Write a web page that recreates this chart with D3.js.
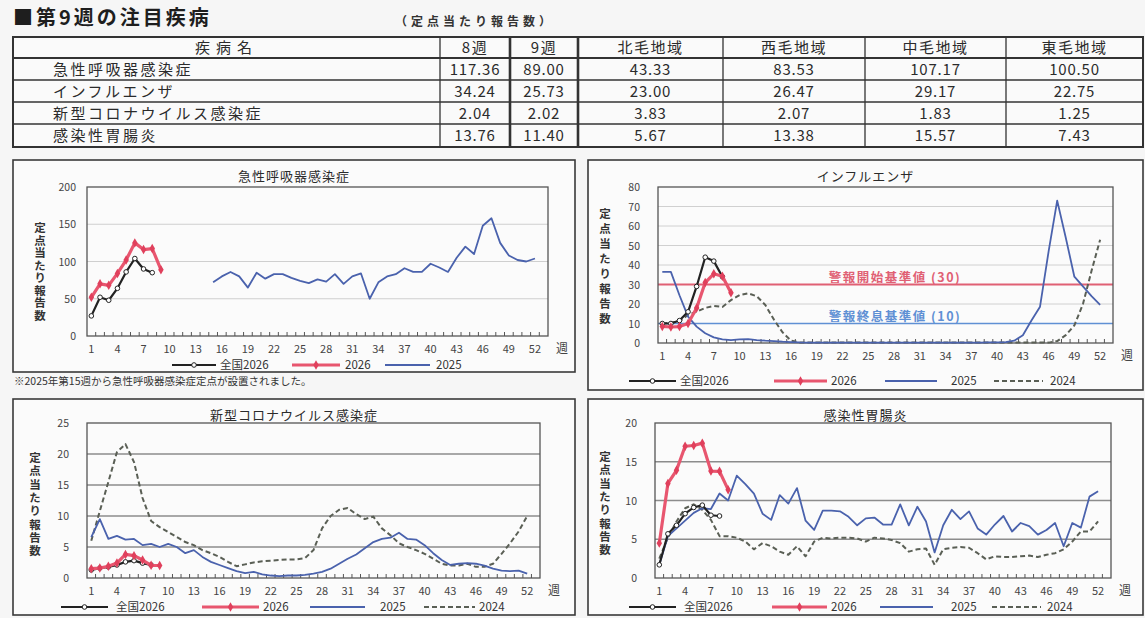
<!DOCTYPE html>
<html>
<head>
<meta charset="utf-8">
<script src="https://cdn.jsdelivr.net/npm/d3@7"></script>
<style>
body { margin: 0; background: #f6f6f6; }
svg { display: block; font-family: "Noto Sans CJK JP", "Noto Sans", sans-serif; }
.vtitle { writing-mode: vertical-rl; }
</style>
</head>
<body>
<svg id="page" width="1145" height="618"></svg>
<script>
// ---- table data ----
const tableHead = ["疾病名", "8週", "9週", "北毛地域", "西毛地域", "中毛地域", "東毛地域"];
const diseases = ["急性呼吸器感染症", "インフルエンザ", "新型コロナウイルス感染症", "感染性胃腸炎"];
const week8 = ["117.36", "34.24", "2.04", "13.76"];
const week9 = ["89.00", "25.73", "2.02", "11.40"];
const north = ["43.33", "23.00", "3.83", "5.67"];
const west = ["83.53", "26.47", "2.07", "13.38"];
const central = ["107.17", "29.17", "1.83", "15.57"];
const east = ["100.50", "22.75", "1.25", "7.43"];

// ---- chart data (weekly values, week 1 first) ----
const xTickLabels = [1, 4, 7, 10, 13, 16, 19, 22, 25, 28, 31, 34, 37, 40, 43, 46, 49, 52];

// 急性呼吸器感染症
const ariNation2026 = [27, 52, 48, 64, 86, 104, 90, 85];
const ariPref2026 = [52, 70, 68, 84, 102, 125, 116, 117.36, 89.00];
const ari2025 = [null, null, null, null, null, null, null, null, null, null, null, null, null, null,
  72, 80, 86, 80, 65, 85, 77, 83, 83, 78, 74, 71, 76, 73, 83, 70, 80, 84, 50, 72,
  80, 83, 91, 86, 86, 97, 92, 86, 105, 120, 110, 148, 158, 125, 108, 102, 100, 104];

// インフルエンザ
const fluNation2026 = [10, 10, 11.5, 16, 29, 44, 42, 34];
const fluPref2026 = [8.5, 8.2, 8.4, 10, 18, 31, 35.5, 34.24, 25.73];
const flu2025 = [36.5, 36.5, 24.5, 13.5, 8.4, 5, 2.9, 1.9, 1.5, 1.9, 2, 1.5, 1.2, 1, 0.7, 0.5, 0.3,
  0.2, 0.2, 0.2, 0.2, 0.2, 0.2, 0.2, 0.2, 0.2, 0.2, 0.2, 0.2, 0.2, 0.2, 0.2, 0.2, 0.2, 0.2, 0.2, 0.2, 0.2,
  0.3, 0.3, 0.5, 1.2, 4, 11.5, 18.6, 47, 73, 54, 34, 29, 24, 19.5];
const flu2024 = [10, 10.5, 11, 14.5, 16, 18, 19, 18.5, 22, 24.5, 25.5, 24, 19.5, 12, 5.5, 1.2, 0.3,
  0.2, 0.2, 0.2, 0.2, 0.2, 0.2, 0.2, 0.2, 0.2, 0.2, 0.2, 0.2, 0.2, 0.2, 0.2, 0.2, 0.2, 0.2, 0.2, 0.2,
  0.2, 0.2, 0.2, 0.2, 0.2, 0.2, 0.2, 0.2, 0.2, 1, 4, 9, 20, 37, 53];
const fluAlertStart = 30;
const fluAlertEnd = 10;

// 新型コロナウイルス感染症
const covNation2026 = [1.3, 1.6, 1.8, 2.1, 2.6, 2.8, 2.4, 2.1];
const covPref2026 = [1.5, 1.6, 1.9, 2.4, 3.8, 3.6, 2.9, 2.04, 2.02];
const cov2025 = [6.6, 9.5, 6.3, 6.8, 6.2, 6.3, 5.3, 5.5, 5, 5.5, 5, 4, 4.5, 3.4, 2.6, 2.1, 1.6, 1.1,
  0.8, 1, 0.6, 0.4, 0.3, 0.4, 0.4, 0.5, 0.7, 1, 1.5, 2.3, 3.1, 3.8, 4.8, 5.8, 6.3, 6.5, 7.3, 6.3,
  6.2, 5.3, 4, 2.9, 2.1, 2.3, 2.4, 2.3, 2, 1.5, 1.2, 1.1, 1.2, 0.7];
const cov2024 = [6, 10.8, 15.5, 20.3, 21.6, 18.7, 12.9, 9.2, 8.2, 7.4, 6.6, 5.8, 5.3, 4.5, 4, 3.4, 2.6,
  1.9, 2.2, 2.5, 2.7, 2.8, 2.9, 3, 3, 3.2, 4.5, 8, 10, 11, 11.3, 10.3, 9.5, 9.9, 8, 6.9, 5.6, 5,
  4.5, 3.9, 3.1, 2.3, 2, 2, 2.3, 1.8, 1.8, 2.3, 3.9, 5.6, 7.5, 10];

// 感染性胃腸炎
const gasNation2026 = [1.7, 5.7, 6.8, 8.3, 9.1, 9.4, 8.1, 8.0];
const gasPref2026 = [4.5, 12.2, 13.9, 17, 17.1, 17.4, 13.8, 13.76, 11.40];
const gas2025 = [1.7, 5.4, 6.4, 7.4, 8.4, 9, 8.9, 10.9, 10, 13.2, 12.1, 10.9, 8.3, 7.5, 10.7, 9.6,
  11.6, 7.4, 6.2, 8.7, 8.7, 8.6, 7.9, 6.8, 7.7, 7.8, 6.9, 6.9, 9.5, 6.8, 9.2, 7.3, 3.3, 6.8, 8.8,
  7.6, 8.6, 6.4, 5.6, 6.9, 8, 6, 7.1, 6.7, 5.6, 6.2, 7.1, 4.1, 7.1, 6.5, 10.5, 11.2];
const gas2024 = [2.5, 5.2, 7.3, 9, 9.5, 8.8, 7.5, 5.4, 5.4, 5.2, 4.7, 3.7, 4.5, 4.1, 3.4, 3, 4.1,
  2.8, 4.7, 5.2, 5.1, 5.2, 5.2, 5.1, 4.7, 5.2, 5.1, 4.9, 4.5, 3.4, 3.7, 3.8, 1.7, 3.7, 3.9, 4,
  3.9, 3.2, 2.4, 2.8, 2.7, 2.7, 2.8, 2.9, 2.7, 3, 3.2, 3.7, 4.7, 6, 6, 7.3];

const yTitle = "定点当たり報告数";
const legendNames = { nation: "全国2026", pref: "2026", y2025: "2025", y2024: "2024" };

const svg = d3.select("#page");
const ink = "#2b2b2b";

// ---------- heading + table ----------
svg.append("text").attr("x", 13).attr("y", 25)
  .attr("font-size", 20).attr("font-weight", "bold").attr("letter-spacing", 3)
  .attr("fill", "#1e1e1e").text("■第9週の注目疾病");
svg.append("text").attr("x", 395).attr("y", 26)
  .attr("font-size", 12).attr("font-weight", 600).attr("letter-spacing", 4)
  .attr("fill", "#333").text("（定点当たり報告数）");

const colX = [13, 440, 510, 578, 723, 865, 1006, 1143];
const rowY = [37, 58, 80, 102, 124, 147];
const tbl = svg.append("g");
tbl.append("rect").attr("x", colX[0]).attr("y", rowY[0])
  .attr("width", colX[7] - colX[0]).attr("height", rowY[5] - rowY[0])
  .attr("fill", "#fafafa").attr("stroke", "#333").attr("stroke-width", 2);
rowY.slice(1, 5).forEach((y, i) => {
  tbl.append("line").attr("x1", colX[0]).attr("x2", colX[7]).attr("y1", y).attr("y2", y)
    .attr("stroke", "#333").attr("stroke-width", i === 0 ? 2 : 1.3);
});
colX.slice(1, 7).forEach(x => {
  tbl.append("line").attr("x1", x).attr("x2", x).attr("y1", rowY[0]).attr("y2", rowY[5])
    .attr("stroke", "#333").attr("stroke-width", (x === 510 || x === 578) ? 2.6 : 1.3);
});
const cellMid = i => (colX[i] + colX[i + 1]) / 2;
tableHead.forEach((h, i) => {
  tbl.append("text").attr("x", cellMid(i)).attr("y", (rowY[0] + rowY[1]) / 2 + 5.5)
    .attr("text-anchor", "middle").attr("font-size", 15)
    .attr("letter-spacing", i === 0 ? 6 : 1.5).attr("fill", ink).text(h);
});
const tableCols = [week8, week9, north, west, central, east];
diseases.forEach((d, r) => {
  const cy = (rowY[r + 1] + rowY[r + 2]) / 2 + 5.5;
  tbl.append("text").attr("x", 53).attr("y", cy).attr("font-size", 15)
    .attr("letter-spacing", 2.5).attr("fill", ink).text(d);
  tableCols.forEach((col, c) => {
    tbl.append("text").attr("x", cellMid(c + 1)).attr("y", cy)
      .attr("text-anchor", "middle").attr("font-size", 15).attr("letter-spacing", 0.8)
      .attr("fill", ink).text(col[r]);
  });
});

// ---------- charts ----------
const styles = {
  nation: { stroke: "#222", width: 2.2, dash: null },
  pref: { stroke: "#e8566f", width: 3.2, dash: null },
  y2025: { stroke: "#4a62ad", width: 1.8, dash: null },
  y2024: { stroke: "#5a5f55", width: 2, dash: "5,3" }
};

const charts = [
  {
    title: "急性呼吸器感染症", frame: [13, 160, 575, 372], plot: [87, 187, 548, 336],
    yMax: 200, yStep: 50, grid: "#cfcfcf", gridW: 1, yTitleX: 40, yTitleY: 222, yTitleGap: 1,
    labelGap: 11, legendY: 365,
    series: { y2025: ari2025, nation: ariNation2026, pref: ariPref2026 },
    legend: [["nation", 172, 216, 220], ["pref", 292, 340, 345], ["y2025", 385, 430, 436]]
  },
  {
    title: "インフルエンザ", frame: [588, 160, 1143, 390], plot: [658, 187, 1113, 343],
    yMax: 80, yStep: 10, grid: "#d0d0d0", gridW: 1, yTitleX: 605, yTitleY: 208, yTitleGap: 3.5,
    labelGap: 18, legendY: 381,
    series: { y2024: flu2024, y2025: flu2025, nation: fluNation2026, pref: fluPref2026 },
    legend: [["nation", 629, 676, 680], ["pref", 774, 827, 831], ["y2025", 885, 937, 951], ["y2024", 994, 1043, 1050]],
    refs: [
      { value: fluAlertStart, color: "#e06074", text: "警報開始基準値 (30)", w: 2 },
      { value: fluAlertEnd, color: "#5f90d4", text: "警報終息基準値 (10)", w: 1.5 }
    ]
  },
  {
    title: "新型コロナウイルス感染症", frame: [13, 399, 575, 615], plot: [87, 423, 540, 578],
    yMax: 25, yStep: 5, grid: "#8c8c8c", gridW: 1.5, yTitleX: 35, yTitleY: 452, yTitleGap: 1.8,
    labelGap: 18, legendY: 607,
    series: { y2024: cov2024, y2025: cov2025, nation: covNation2026, pref: covPref2026 },
    legend: [["nation", 61, 108, 116], ["pref", 202, 259, 263], ["y2025", 310, 365, 380], ["y2024", 424, 475, 479]]
  },
  {
    title: "感染性胃腸炎", frame: [588, 399, 1143, 615], plot: [655, 423, 1111, 578],
    yMax: 20, yStep: 5, grid: "#8c8c8c", gridW: 1.5, yTitleX: 605, yTitleY: 451, yTitleGap: 1.8,
    labelGap: 18, legendY: 607,
    series: { y2024: gas2024, y2025: gas2025, nation: gasNation2026, pref: gasPref2026 },
    legend: [["nation", 629, 676, 684], ["pref", 772, 827, 831], ["y2025", 880, 933, 951], ["y2024", 992, 1041, 1047]]
  }
];

function marker(g, key, cx, cy) {
  if (key === "nation") {
    g.append("circle").attr("cx", cx).attr("cy", cy).attr("r", 2.3)
      .attr("fill", "#fff").attr("stroke", "#222").attr("stroke-width", 1);
  } else if (key === "pref") {
    g.append("path").attr("d", d3.symbol(d3.symbolDiamond, 26)())
      .attr("transform", `translate(${cx},${cy})`).attr("fill", "#e0405c");
  }
}

charts.forEach(c => {
  const [fx0, fy0, fx1, fy1] = c.frame;
  const [px0, py0, px1, py1] = c.plot;
  const g = svg.append("g");

  g.append("rect").attr("x", fx0).attr("y", fy0).attr("width", fx1 - fx0).attr("height", fy1 - fy0)
    .attr("fill", "#fbfbfb").attr("stroke", "#3a3a3a").attr("stroke-width", 1.6);

  // 53 week slots (the 2026 season has 53 weeks)
  const x = d3.scaleBand().domain(d3.range(1, 54)).range([px0, px1]);
  const cx = w => x(w) + x.bandwidth() / 2;
  const y = d3.scaleLinear().domain([0, c.yMax]).range([py1, py0]);

  g.append("text").attr("x", (fx0 + fx1) / 2).attr("y", fy0 + 21)
    .attr("text-anchor", "middle").attr("font-size", 13).attr("fill", ink)
    .attr("letter-spacing", 1).text(c.title);

  // gridlines
  const yTicks = d3.range(0, c.yMax + 0.001, c.yStep);
  g.selectAll(".grid").data(yTicks.filter(v => v > 0 && v < c.yMax)).enter().append("line")
    .attr("x1", px0).attr("x2", px1).attr("y1", d => y(d)).attr("y2", d => y(d))
    .attr("stroke", c.grid).attr("stroke-width", c.gridW);

  // y labels
  g.selectAll(".ylab").data(yTicks).enter().append("text")
    .attr("x", px0 - c.labelGap).attr("y", d => y(d) + 4)
    .attr("text-anchor", "end").attr("font-size", 10.5).attr("fill", "#444").text(d => d);

  // y title, written vertically
  g.append("text").attr("class", "vtitle").attr("x", c.yTitleX).attr("y", c.yTitleY)
    .attr("font-size", 11.5).attr("font-weight", 600).attr("letter-spacing", c.yTitleGap)
    .attr("fill", "#333").text(yTitle);

  // reference lines
  (c.refs || []).forEach(r => {
    g.append("line").attr("x1", px0).attr("x2", px1).attr("y1", y(r.value)).attr("y2", y(r.value))
      .attr("stroke", r.color).attr("stroke-width", r.w);
    g.append("text").attr("x", 895).attr("y", y(r.value) - 3)
      .attr("text-anchor", "middle").attr("font-size", 12.5).attr("font-weight", 600)
      .attr("letter-spacing", 1.5).attr("fill", r.color).text(r.text);
  });

  // plot border
  g.append("rect").attr("x", px0).attr("y", py0).attr("width", px1 - px0).attr("height", py1 - py0)
    .attr("fill", "none").attr("stroke", "#555").attr("stroke-width", 1.3);

  // x tick marks between weeks
  g.selectAll(".xt").data(x.domain().slice(1)).enter().append("line")
    .attr("x1", d => x(d)).attr("x2", d => x(d)).attr("y1", py1).attr("y2", py1 - 4)
    .attr("stroke", "#555").attr("stroke-width", 1);

  // x labels
  g.selectAll(".xlab").data(xTickLabels).enter().append("text")
    .attr("x", d => cx(d)).attr("y", py1 + 17).attr("text-anchor", "middle")
    .attr("font-size", 11).attr("fill", "#444").text(d => d);
  g.append("text").attr("x", px1 + 14).attr("y", py1 + 17).attr("text-anchor", "middle")
    .attr("font-size", 12).attr("fill", "#444").text("週");

  // series
  const line = d3.line().defined(d => d != null).x((d, i) => cx(i + 1)).y(d => y(d));
  ["y2024", "y2025", "nation", "pref"].forEach(key => {
    const vals = c.series[key];
    if (!vals) return;
    const s = styles[key];
    g.append("path").datum(vals).attr("d", line).attr("fill", "none")
      .attr("stroke", s.stroke).attr("stroke-width", s.width)
      .attr("stroke-dasharray", s.dash).attr("stroke-linejoin", "round");
    if (key === "nation" || key === "pref") {
      vals.forEach((v, i) => marker(g, key, cx(i + 1), y(v)));
    }
  });

  // legend
  c.legend.forEach(([key, a, b, tx]) => {
    const s = styles[key];
    g.append("line").attr("x1", a).attr("x2", b).attr("y1", c.legendY).attr("y2", c.legendY)
      .attr("stroke", s.stroke).attr("stroke-width", s.width).attr("stroke-dasharray", s.dash);
    marker(g, key, (a + b) / 2, c.legendY);
    g.append("text").attr("x", tx).attr("y", c.legendY + 4).attr("font-size", 11.5)
      .attr("fill", "#333").text(legendNames[key]);
  });
});

svg.append("text").attr("x", 14).attr("y", 385).attr("font-size", 10.5).attr("fill", "#333")
  .text("※2025年第15週から急性呼吸器感染症定点が設置されました。");
</script>
</body>
</html>
